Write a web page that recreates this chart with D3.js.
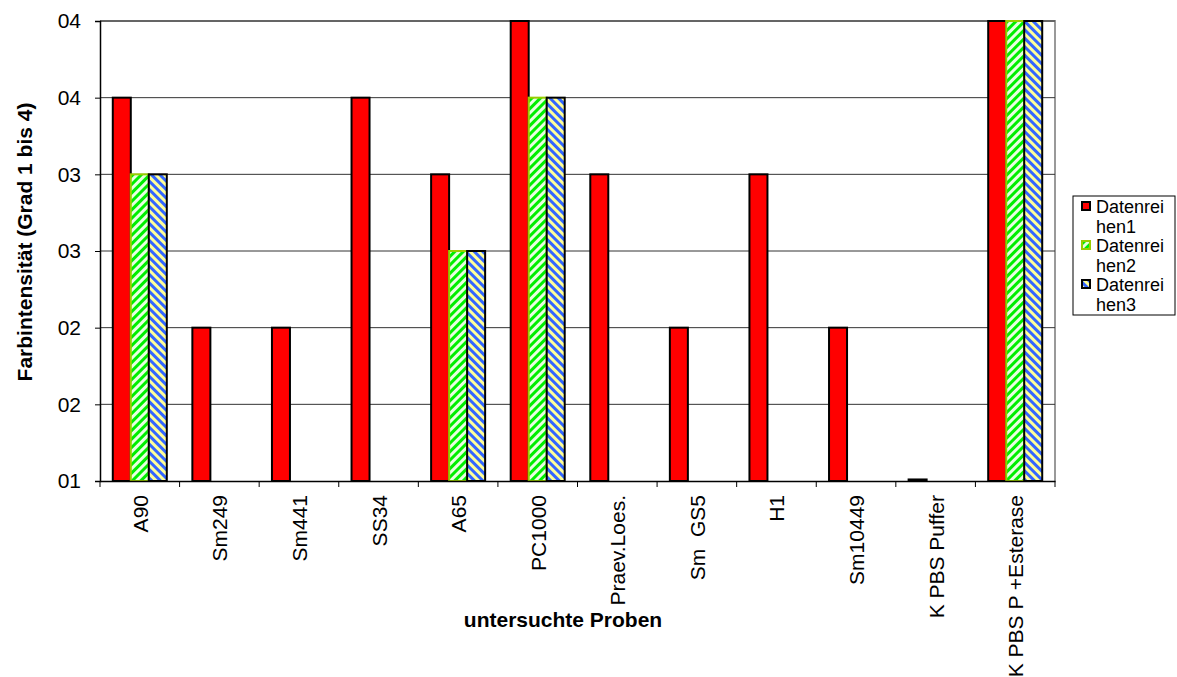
<!DOCTYPE html>
<html>
<head>
<meta charset="utf-8">
<script src="https://cdn.jsdelivr.net/npm/d3@7"></script>
<style>
  body { margin: 0; background: #fff; }
  svg { display: block; font-family: Arial, "Liberation Sans", sans-serif; }
</style>
</head>
<body>
<svg id="chart" width="1177" height="677"></svg>
<script>
// Sample names along the x axis
const categories = ["A90", "Sm249", "Sm441", "SS34", "A65", "PC1000", "Praev.Loes.", "Sm  GS5", "H1", "Sm10449", "K PBS Puffer", "K PBS P +Esterase"];
// Colour intensity per series (null = no bar)
const series1 = [3.5, 2, 2, 3.5, 3, 4, 3, 2, 3, 2, 1.01, 4];
const series2 = [3, null, null, null, 2.5, 3.5, null, null, null, null, null, 4];
const series3 = [3, null, null, null, 2.5, 3.5, null, null, null, null, null, 4];
const seriesNames = ["Datenreihen1", "Datenreihen2", "Datenreihen3"];
const yTicks = [1, 1.5, 2, 2.5, 3, 3.5, 4];

const svg = d3.select("#chart");
const m = { left: 100, right: 1055, top: 21, bottom: 481 };
const FONT = 21;

// Fill patterns for the hatched series
const defs = svg.append("defs");
const pg = defs.append("pattern").attr("id", "pat-green").attr("patternUnits", "userSpaceOnUse")
  .attr("width", 6).attr("height", 6).attr("patternTransform", "rotate(45)");
pg.append("rect").attr("width", 6).attr("height", 6).attr("fill", "#e8ffe0");
pg.append("rect").attr("width", 3).attr("height", 6).attr("fill", "#00ee00");
const pb = defs.append("pattern").attr("id", "pat-blue").attr("patternUnits", "userSpaceOnUse")
  .attr("width", 6).attr("height", 6).attr("patternTransform", "rotate(-45)");
pb.append("rect").attr("width", 6).attr("height", 6).attr("fill", "#ffff99");
pb.append("rect").attr("width", 3).attr("height", 6).attr("fill", "#3366ff");

const x = d3.scaleBand().domain(categories).range([m.left, m.right]);
const x1 = d3.scaleBand().domain([0, 1, 2]).range([0, x.bandwidth()]).paddingOuter(0.71);
const y = d3.scaleLinear().domain([1, 4]).range([m.bottom, m.top]);

// Plot frame (top/right)
svg.append("path")
  .attr("d", `M${m.left},${m.top}H${m.right}V${m.bottom}`)
  .attr("fill", "none").attr("stroke", "#999").attr("stroke-width", 2);

// Gridlines
svg.append("g").selectAll("line").data(yTicks.slice(1)).join("line")
  .attr("x1", m.left).attr("x2", m.right)
  .attr("y1", d => y(d)).attr("y2", d => y(d))
  .attr("stroke", "#333").attr("stroke-width", 1);

// Bars
const fills = ["#ff0000", "url(#pat-green)", "url(#pat-blue)"];
const strokes = ["#000", "#99cc00", "#000"];
const all = [series1, series2, series3];
all.forEach((vals, si) => {
  svg.append("g").selectAll("rect")
    .data(categories.map((c, i) => ({ c, v: vals[i] })).filter(d => d.v != null))
    .join("rect")
    .attr("x", d => x(d.c) + x1(si))
    .attr("width", x1.bandwidth())
    .attr("y", d => y(d.v))
    .attr("height", d => y(1) - y(d.v))
    .attr("fill", fills[si])
    .attr("stroke", strokes[si])
    .attr("stroke-width", 2);
});

// Y axis
const yAxis = d3.axisLeft(y).tickValues(yTicks).tickFormat(d3.format("02.0f")).tickSize(5).tickPadding(14);
const yg = svg.append("g").attr("transform", `translate(${m.left},0)`).call(yAxis);
yg.select(".domain").attr("stroke", "#000").attr("stroke-width", 1.5);
yg.selectAll(".tick line").attr("stroke", "#000");
yg.selectAll("text").attr("font-size", FONT).attr("fill", "#000").attr("font-family", "Arial, 'Liberation Sans', sans-serif");

// X axis
const xg = svg.append("g").attr("transform", `translate(0,${m.bottom})`)
  .call(d3.axisBottom(x).tickSize(0).tickFormat(""));
xg.select(".domain").attr("stroke", "#000").attr("stroke-width", 1.5);
xg.selectAll(".sep").data(d3.range(categories.length + 1)).join("line").attr("class", "sep")
  .attr("x1", i => m.left + i * x.step()).attr("x2", i => m.left + i * x.step())
  .attr("y1", 0).attr("y2", 6).attr("stroke", "#000");
svg.append("g").selectAll("text").data(categories).join("text")
  .attr("transform", d => `translate(${x(d) + x.bandwidth() / 2 + 8},495) rotate(-90)`)
  .attr("text-anchor", "end").attr("font-size", FONT).attr("xml:space", "preserve")
  .style("white-space", "pre")
  .text(d => d);

// Axis titles
svg.append("text").attr("x", 563).attr("y", 627).attr("text-anchor", "middle")
  .attr("font-size", FONT).attr("font-weight", "bold").text("untersuchte Proben");
svg.append("text").attr("transform", "translate(32,242) rotate(-90)").attr("text-anchor", "middle")
  .attr("font-size", FONT).attr("font-weight", "bold").text("Farbintensität (Grad 1 bis 4)");

// Legend: series names wrap onto two lines inside the narrow box
const lg = svg.append("g");
lg.append("rect").attr("x", 1073).attr("y", 196).attr("width", 102).attr("height", 119)
  .attr("fill", "#fff").attr("stroke", "#000").attr("stroke-width", 1);
const legFill = ["#ff0000", "url(#pat-green)", "url(#pat-blue)"];
const legStroke = ["#000", "#99cc00", "#000"];
seriesNames.forEach((name, i) => {
  const by = 213 + i * 39;
  lg.append("rect").attr("x", 1082).attr("y", by - 11).attr("width", 8).attr("height", 8)
    .attr("fill", legFill[i]).attr("stroke", legStroke[i]).attr("stroke-width", 2);
  lg.append("text").attr("x", 1096).attr("y", by).attr("font-size", 18).text(name.slice(0, 8));
  lg.append("text").attr("x", 1096).attr("y", by + 20).attr("font-size", 18).text(name.slice(8));
});
</script>
</body>
</html>
